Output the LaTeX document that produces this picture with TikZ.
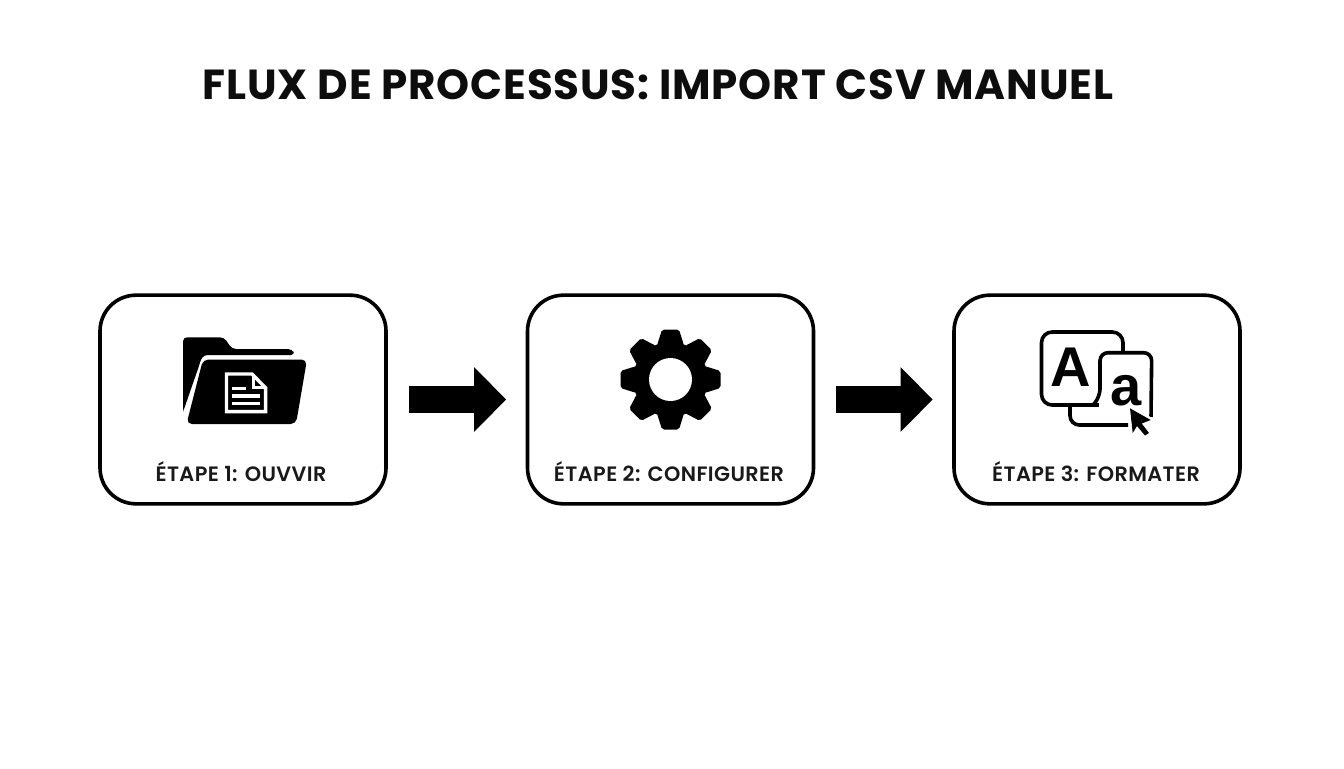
\documentclass[tikz,border=0pt]{standalone}
\usepackage{fontspec}
\setmainfont{Poppins}
\newfontfamily\titlefont[LetterSpace=2]{Poppins}
\newfontfamily\labelfont[LetterSpace=2]{Poppins SemiBold}
\newfontfamily\iconfont{Liberation Sans}
\usetikzlibrary{arrows.meta}
\tikzset{
  x=.75pt,y=-.75pt,
  stepbox/.style={draw=black,line width=2.7pt,rounded corners=27pt,minimum width=214.5pt,minimum height=156.5pt,outer sep=0pt,fill=white},
  steplabel/.style={font=\fontsize{15.6pt}{18pt}\labelfont,inner sep=0pt,text=black!90},
  titletext/.style={font=\fontsize{31.5pt}{34pt}\titlefont\bfseries,inner sep=0pt,text=black!95},
  flowarrow/.style={line width=20.5pt,draw=black,-{Triangle[length=24pt,width=47pt]},shorten <=17pt,shorten >=16pt},
  iconline/.style={draw=black,line width=2.7pt},
  docline/.style={draw=white,line width=2.6pt},
  glyph/.style={font=\fontsize{42pt}{42pt}\selectfont\iconfont\bfseries,inner sep=0pt}
}
\begin{document}
\begin{tikzpicture}
\useasboundingbox (0,0) rectangle (1344,768);
\node[titletext] (title) at (658,84.5) {FLUX DE PROCESSUS: IMPORT CSV MANUEL};
\node[stepbox] (box1) at (243,399.5) {};
\node[stepbox] (box2) at (670.5,399.5) {};
\node[stepbox] (box3) at (1097,399.5) {};
\node[steplabel] (lab1) at (241,472) {ÉTAPE 1: OUVVIR};
\node[steplabel] (lab2) at (669,472) {ÉTAPE 2: CONFIGURER};
\node[steplabel] (lab3) at (1096,472) {ÉTAPE 3: FORMATER};
\draw[flowarrow] (box1) -- (box2);
\draw[flowarrow] (box2) -- (box3);
% folder icon
\fill[rounded corners=3pt] (183,412) -- (183,337.3) -- (224,337.3) -- (232,349) -- (292,349) -- (295,355) -- (212,355) .. controls (203,355) and (201,359) .. (199,366) -- cycle;
\fill[black] (183,343.3) -- (183,412) -- (186,400) -- (186,343.3) -- cycle;
\fill[rounded corners=4pt] (203,359.5) -- (307,359.5) -- (296,424) -- (186.5,424) -- cycle;
\draw[docline] (226.5,374) -- (252,374) -- (265.6,388) -- (265.6,411.6) -- (226.5,411.6) -- cycle;
\draw[docline] (253.5,374) -- (253.5,387.7) -- (265.6,387.7);
\fill[white] (232,386.5) rectangle (246.3,390);
\fill[white] (232,394) rectangle (259.7,397.6);
\fill[white] (232,401.6) rectangle (259.7,405.2);
% gear icon
\begin{scope}[shift={(670.5,379.5)}]
  \fill circle (37.5);
  \foreach \a in {0,45,...,315}{
    \fill[rotate=\a,rounded corners=1.5pt] (-13.5,-34) -- (-8.5,-50) -- (8.5,-50) -- (13.5,-34) -- cycle;
  }
  \fill[white] circle (21.5);
\end{scope}
% text icon
\draw[iconline,rounded corners=7pt] (1070,405) -- (1070,425) -- (1128,425);
\draw[iconline,rounded corners=8pt,fill=white] (1041.5,332) rectangle (1123,405);
\fill[white] (1099,351) rectangle (1126,407);
\draw[iconline,rounded corners=6pt] (1093,405) -- (1100,397) -- (1100,352.7) -- (1151.7,352.7) -- (1151,417);
\node[glyph] (bigA) at (1071,367) {A};
\node[glyph] (smalla) at (1126,391) {a};
\fill[white] (1127,404) -- (1154,419) -- (1146,424) -- (1153,434) -- (1145,438) -- (1137,429) -- (1131,437) -- cycle;
\fill (1130,408.3) -- (1150.7,420) -- (1141.7,423.5) -- (1149,433) -- (1145,435.5) -- (1137,426) -- (1132.7,433) -- cycle;
\end{tikzpicture}
\end{document}
